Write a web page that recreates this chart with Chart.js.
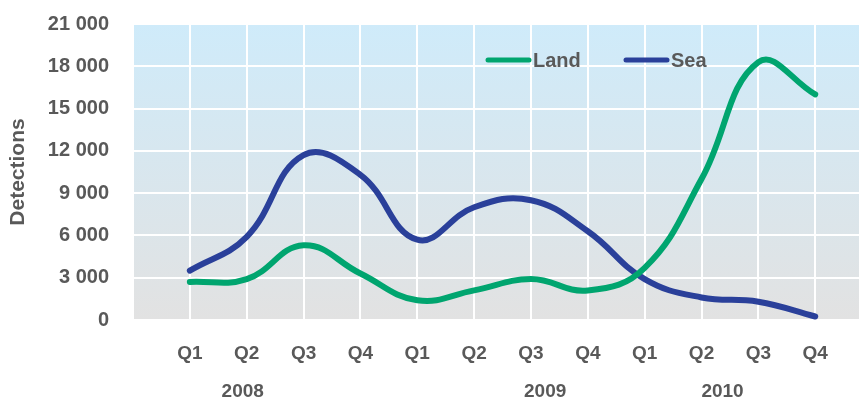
<!DOCTYPE html>
<html>
<head>
<meta charset="utf-8">
<script src="https://cdn.jsdelivr.net/npm/chart.js@4.4.0/dist/chart.umd.min.js"></script>
<style>
    html, body { margin: 0; padding: 0; background: #fff; }
    #wrap { width: 859px; height: 401px; }
</style>
</head>
<body>
<div id="wrap"><canvas id="chart" width="859" height="401"></canvas></div>
<script>
// Chart data
const quarters = ['Q1', 'Q2', 'Q3', 'Q4', 'Q1', 'Q2', 'Q3', 'Q4', 'Q1', 'Q2', 'Q3', 'Q4'];
const years = ['2008', '2009', '2010'];
const landValues = [2700, 2900, 5300, 3300, 1400, 2100, 2900, 2100, 3700, 10000, 18300, 16000];
const seaValues = [3500, 5900, 11700, 10300, 5700, 8000, 8500, 6300, 2900, 1600, 1300, 250];
const yMax = 21000;
const yStep = 3000;

const textColor = '#595959';
const fontFamily = '"Liberation Sans", Arial, sans-serif';

// Format numbers like "21 000"
function formatThousands(v) {
    return String(v).replace(/\B(?=(\d{3})+(?!\d))/g, ' ');
}

// Gradient plot background (light blue to grey)
const backgroundPlugin = {
    id: 'plotBackground',
    beforeDraw(chart) {
        const { ctx, chartArea } = chart;
        const g = ctx.createLinearGradient(0, chartArea.top, 0, chartArea.bottom);
        g.addColorStop(0, '#cfebfa');
        g.addColorStop(1, '#e2e2e2');
        ctx.save();
        ctx.fillStyle = g;
        ctx.fillRect(chartArea.left, chartArea.top, chartArea.right - chartArea.left, chartArea.bottom - chartArea.top);
        ctx.restore();
    }
};

// Year labels under the quarter labels
const yearPlugin = {
    id: 'yearLabels',
    afterDraw(chart) {
        const { ctx } = chart;
        const xScale = chart.scales.x;
        const anchors = [0.93, 6.25, 9.37];
        ctx.save();
        ctx.font = 'bold 19px ' + fontFamily;
        ctx.fillStyle = textColor;
        ctx.textAlign = 'center';
        ctx.textBaseline = 'middle';
        years.forEach((y, i) => {
            ctx.fillText(y, xScale.getPixelForValue(anchors[i]), 392);
        });
        ctx.restore();
    }
};

// Legend drawn inside the plot area
const legendPlugin = {
    id: 'innerLegend',
    afterDraw(chart) {
        const { ctx, chartArea } = chart;
        const starts = [chartArea.left + 355, chartArea.left + 493];
        const y = 60;
        ctx.save();
        ctx.font = 'bold 20px ' + fontFamily;
        ctx.textBaseline = 'middle';
        ctx.textAlign = 'left';
        chart.data.datasets.forEach((ds, i) => {
            const x = starts[i];
            ctx.strokeStyle = ds.borderColor;
            ctx.lineWidth = 5;
            ctx.lineCap = 'round';
            ctx.beginPath();
            ctx.moveTo(x, y);
            ctx.lineTo(x + 41, y);
            ctx.stroke();
            ctx.fillStyle = textColor;
            ctx.fillText(ds.label, x + 45, y + 1);
        });
        ctx.restore();
    }
};

const ctx = document.getElementById('chart').getContext('2d');

new Chart(ctx, {
    type: 'line',
    data: {
        datasets: [
            {
                label: 'Land',
                data: landValues.map((v, i) => ({ x: i, y: v })),
                borderColor: '#00a56f',
                borderWidth: 6,
                borderCapStyle: 'round',
                tension: 0.42,
                pointRadius: 0,
                fill: false
            },
            {
                label: 'Sea',
                data: seaValues.map((v, i) => ({ x: i, y: v })),
                borderColor: '#2a409a',
                borderWidth: 6,
                borderCapStyle: 'round',
                tension: 0.42,
                pointRadius: 0,
                fill: false
            }
        ]
    },
    options: {
        responsive: false,
        animation: false,
        layout: { padding: { top: 24, right: 0, left: 0, bottom: 0 } },
        plugins: {
            legend: { display: false },
            tooltip: { enabled: false }
        },
        scales: {
            x: {
                type: 'linear',
                min: -1,
                max: 11.77,
                afterBuildTicks(scale) {
                    scale.ticks = [-1].concat(quarters.map((q, i) => i)).map(v => ({ value: v }));
                },
                afterFit(scale) {
                    scale.height = 81;
                    scale.paddingLeft = 0;
                    scale.paddingRight = 0;
                },
                border: { display: false },
                grid: { drawTicks: false, lineWidth: 2, color: '#ffffff' },
                ticks: {
                    autoSkip: false,
                    maxRotation: 0,
                    padding: 22,
                    color: textColor,
                    font: { family: fontFamily, size: 19, weight: 'bold' },
                    callback: v => (v >= 0 ? quarters[v] : '')
                }
            },
            y: {
                min: 0,
                max: yMax,
                afterFit(scale) {
                    scale.width = 133;
                    scale.paddingTop = 0;
                    scale.paddingBottom = 0;
                },
                border: { display: false },
                grid: { drawTicks: false, lineWidth: 2, color: '#ffffff' },
                ticks: {
                    stepSize: yStep,
                    padding: 24,
                    color: textColor,
                    font: { family: fontFamily, size: 20, weight: 'bold' },
                    callback: v => formatThousands(v)
                },
                title: {
                    display: true,
                    text: 'Detections',
                    color: textColor,
                    font: { family: fontFamily, size: 21, weight: 'bold' },
                    padding: { top: 6, bottom: 0 }
                }
            }
        }
    },
    plugins: [backgroundPlugin, yearPlugin, legendPlugin]
});
</script>
</body>
</html>
